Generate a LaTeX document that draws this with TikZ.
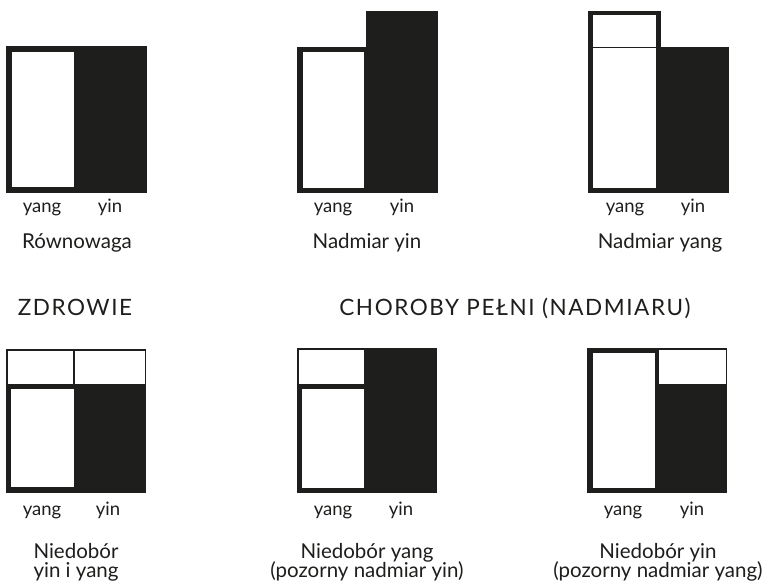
\documentclass[tikz,border=0pt]{standalone}
\usepackage{fontspec}
\setmainfont{Lato}
\definecolor{ink}{HTML}{1E1E1C}
\tikzset{
  lbl/.style={anchor=base, inner sep=0pt, text=ink, font=\fontsize{18.5}{20}\selectfont},
  captext/.style={anchor=base, inner sep=0pt, text=ink, font=\fontsize{20.5}{22}\selectfont},
  ttl/.style={anchor=base, inner sep=0pt, text=ink, font=\fontsize{22.5}{24}\selectfont\addfontfeatures{LetterSpace=7}},
  thinbox/.style={draw=ink, line width=1.5pt},
  solidpart/.style={fill=ink},
  hollow/.style={fill=white}
}
\begin{document}
\begin{tikzpicture}[x=1pt,y=-1pt]
\useasboundingbox (0,0) rectangle (769,587);
\fill[white] (0,0) rectangle (769,587);
% Diagram 1: Rownowaga
\fill[solidpart] (6,46) rectangle (147,193);
\fill[hollow] (12,52) rectangle (74,187);
% Diagram 2: Nadmiar yin
\fill[solidpart] (297,47) rectangle (366,193);
\fill[solidpart] (366,11) rectangle (438,193);
\fill[hollow] (303,52) rectangle (364,188);
% Diagram 3: Nadmiar yang
\fill[solidpart] (588,11) rectangle (661,193);
\fill[hollow] (593,15) rectangle (656,188);
\fill[solidpart] (656,47) rectangle (729,193);
\draw[draw=ink, line width=1.5pt] (593,47.5) -- (656,47.5);
% Diagram 4: Niedobor yin i yang
\draw[thinbox] (6.75,349.75) rectangle (145.25,385);
\draw[thinbox] (74,349.75) -- (74,385);
\fill[solidpart] (6,384) rectangle (146,493);
\fill[hollow] (11,389) rectangle (74,487);
% Diagram 5: Niedobor yang
\draw[thinbox] (297.75,348.75) rectangle (365,385);
\fill[solidpart] (297,384) rectangle (437,493);
\fill[solidpart] (364,348) rectangle (437,493);
\fill[hollow] (302,389) rectangle (364,488);
% Diagram 6: Niedobor yin
\fill[solidpart] (587,348) rectangle (659,493);
\fill[hollow] (593,353) rectangle (655,488);
\draw[thinbox] (658,348.75) rectangle (726.25,385);
\fill[solidpart] (659,384) rectangle (727,493);
% Row 1 labels
\node[lbl] (y1) at (42,212) {yang};
\node[lbl] (i1) at (110,212) {yin};
\node[lbl] (y2) at (333,212) {yang};
\node[lbl] (i2) at (402,212) {yin};
\node[lbl] (y3) at (625,212) {yang};
\node[lbl] (i3) at (693,212) {yin};
\node[captext] (c1) at (77,248) {Równowaga};
\node[captext] (c2) at (367,248) {Nadmiar yin};
\node[captext] (c3) at (660,248) {Nadmiar yang};
% Titles
\node[ttl] (t1) at (75,315) {ZDROWIE};
\node[ttl] (t2) at (515,315) {CHOROBY PEŁNI (NADMIARU)};
% Row 2 labels
\node[lbl] (y4) at (42,515) {yang};
\node[lbl] (i4) at (108,515) {yin};
\node[lbl] (y5) at (333,515) {yang};
\node[lbl] (i5) at (401,515) {yin};
\node[lbl] (y6) at (623,515) {yang};
\node[lbl] (i6) at (692,515) {yin};
\node[captext] (c4a) at (76,558) {Niedobór};
\node[captext] (c4b) at (76,577) {yin i yang};
\node[captext] (c5a) at (367,558) {Niedobór yang};
\node[captext] (c5b) at (367,577) {(pozorny nadmiar yin)};
\node[captext] (c6a) at (658,558) {Niedobór yin};
\node[captext] (c6b) at (658,577) {(pozorny nadmiar yang)};
\end{tikzpicture}
\end{document}
